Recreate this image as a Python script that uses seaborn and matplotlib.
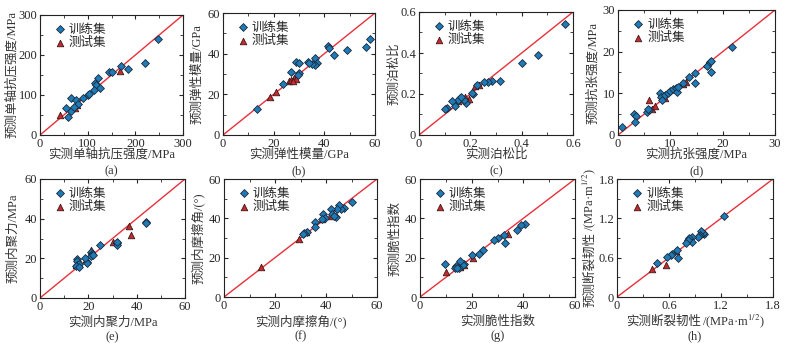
import matplotlib
matplotlib.use("Agg")
import matplotlib.pyplot as plt
from matplotlib.ticker import MultipleLocator
import seaborn as sns
import pandas as pd

# (a) uniaxial compressive strength
a_train_x = [247, 220, 185, 170, 145, 152, 122, 115, 118, 126, 113, 100, 103, 90, 66, 75, 65, 55, 58, 80, 72]
a_train_y = [240, 180, 166, 172, 158, 158, 142, 130, 124, 117, 112, 100, 102, 93, 93, 88, 60, 67, 45, 78, 70]
a_test_x = [42, 73, 77, 168, 122]
a_test_y = [50, 68, 76, 160, 123]

# (b) elastic modulus
b_train_x = [58, 56.5, 49, 44, 41.5, 42, 36.5, 37, 36.5, 35, 33.5, 34, 29, 30, 30, 29.5, 27, 23.5, 13.5]
b_train_y = [47, 43.5, 42, 39.5, 44, 43, 38, 35.5, 34.5, 35, 36, 35.5, 36, 35.5, 30.5, 29.5, 31, 25, 13]
b_test_x = [18.5, 21, 26, 27, 28, 29, 27.5]
b_test_y = [18.5, 21, 26.5, 27, 28, 27.5, 26.5]

# (c) Poisson's ratio
c_train_x = [0.57, 0.465, 0.40, 0.315, 0.285, 0.27, 0.255, 0.225, 0.21, 0.205, 0.185, 0.175, 0.16, 0.15, 0.14, 0.13, 0.11, 0.10, 0.165]
c_train_y = [0.54, 0.39, 0.35, 0.265, 0.262, 0.258, 0.258, 0.245, 0.20, 0.205, 0.158, 0.17, 0.18, 0.17, 0.14, 0.165, 0.13, 0.128, 0.185]
c_test_x = [0.22, 0.235, 0.195, 0.15, 0.16, 0.18]
c_test_y = [0.24, 0.245, 0.175, 0.168, 0.175, 0.185]

# (d) tensile strength
d_train_x = [0.7, 3, 3.5, 3.2, 5.5, 6, 5.8, 8, 8.2, 8.5, 9, 9.5, 10, 10.5, 11, 11.2, 11.5, 12.5, 13.5, 14.7, 14.7, 17, 17.5, 17.8, 17.8, 21.8]
d_train_y = [1.8, 5, 4.5, 3.2, 5.5, 6, 6.2, 10, 9, 8.3, 9.5, 10, 10.5, 11, 11.2, 10.2, 11.5, 12.5, 14, 14.8, 12.5, 16.5, 17.5, 17.8, 15, 21]
d_test_x = [6, 6.5, 7, 9, 12.5, 13, 17, 10.8]
d_test_y = [8.3, 6.3, 7, 8.8, 12.3, 12.8, 17, 11]

# (e) cohesion
e_train_x = [44, 44, 32, 32, 32, 25, 21, 21.5, 21, 22, 19.5, 19.5, 18.5, 15.5, 15.5, 15.5, 16, 15, 16]
e_train_y = [38.5, 37.8, 27.5, 26.5, 28, 26.5, 23, 22, 21, 21.5, 18, 17.5, 20, 19.5, 18.5, 16.5, 17, 16, 15.5]
e_test_x = [37, 37.5, 30, 21, 21.5, 15]
e_test_y = [36.5, 32, 28, 24, 23, 16.5]

# (f) internal friction angle
f_train_x = [50, 47, 46, 45, 44.5, 44, 42, 42.5, 39, 39.5, 38.5, 35.5, 35.5, 32.5, 31.5, 31, 43]
f_train_y = [48.5, 45.5, 45, 47, 44.5, 40.5, 45, 42, 42, 40, 39.5, 38, 35.5, 33, 32.5, 32, 41]
f_test_x = [14.5, 29.5, 42, 38.5, 32]
f_test_y = [15.5, 29.5, 41, 39.5, 33]

# (g) brittleness index
g_train_x = [40.5, 39, 37.5, 33, 32.5, 30, 28.5, 24.5, 23, 20, 17, 16.5, 15.5, 15, 14, 13.5, 14.5, 9.5]
g_train_y = [37, 36.5, 34, 27.5, 31.5, 30, 29, 24, 22, 21.5, 17, 16.5, 18.5, 15, 16, 15, 14.5, 17]
g_test_x = [10, 34, 20.5, 15.5, 17]
g_test_y = [12.5, 32, 20, 15.5, 16.5]

# (h) fracture toughness
h_train_x = [1.24, 1.0, 0.99, 0.97, 0.96, 0.95, 0.93, 0.87, 0.86, 0.83, 0.82, 0.80, 0.70, 0.69, 0.64, 0.62, 0.58, 0.46]
h_train_y = [1.23, 0.96, 0.98, 1.0, 0.95, 0.93, 0.91, 0.92, 0.84, 0.90, 0.87, 0.82, 0.59, 0.72, 0.66, 0.64, 0.61, 0.52]
h_test_x = [0.40, 0.56, 0.68, 0.96, 0.99]
h_test_y = [0.42, 0.49, 0.70, 0.99, 0.98]

# labels: (chinese part, unit part) so the unit can use mathtext
panels = [
    ("a", a_train_x, a_train_y, a_test_x, a_test_y, 300, 100, ("实测单轴抗压强度", "/MPa"), ("预测单轴抗压强度", "/MPa"), "{:.0f}"),
    ("b", b_train_x, b_train_y, b_test_x, b_test_y, 60, 20, ("实测弹性模量", "/GPa"), ("预测弹性模量", "/GPa"), "{:.0f}"),
    ("c", c_train_x, c_train_y, c_test_x, c_test_y, 0.6, 0.2, ("实测泊松比", ""), ("预测泊松比", ""), "{:.1f}"),
    ("d", d_train_x, d_train_y, d_test_x, d_test_y, 30, 10, ("实测抗张强度", "/MPa"), ("预测抗张强度", "/MPa"), "{:.0f}"),
    ("e", e_train_x, e_train_y, e_test_x, e_test_y, 60, 20, ("实测内聚力", "/MPa"), ("预测内聚力", "/MPa"), "{:.0f}"),
    ("f", f_train_x, f_train_y, f_test_x, f_test_y, 60, 20, ("实测内摩擦角", "/(°)"), ("预测内摩擦角", "/(°)"), "{:.0f}"),
    ("g", g_train_x, g_train_y, g_test_x, g_test_y, 60, 20, ("实测脆性指数", ""), ("预测脆性指数", ""), "{:.0f}"),
    ("h", h_train_x, h_train_y, h_test_x, h_test_y, 1.8, 0.6,
     ("实测断裂韧性", "/(MPa·m$^{1/2}$)"), ("预测断裂韧性", "/(MPa·m$^{1/2}$)"), "{:.1f}"),
]

# pixel boxes (x0, y0, x1, y1) of each axes in the 787x347 image
boxes = [
    (40, 15, 183, 135), (223, 13, 375, 135), (419, 12, 573, 135), (618, 10, 775, 135),
    (40, 179, 185, 298), (224, 179, 377, 297), (420, 179, 575, 297), (617, 179, 773, 297),
]
ylabel_gap = [25, 22, 22, 22, 24, 22, 22, 24]

sns.set_theme(style="ticks")
plt.rcParams['font.family'] = ['Liberation Serif', 'Noto Sans CJK SC']
plt.rcParams['mathtext.fontset'] = 'stix'
plt.rcParams['font.size'] = 9

W, H = 787, 347
fig = plt.figure(figsize=(W / 100, H / 100), dpi=100)
renderer = fig.canvas.get_renderer()

blue = "#1f7ab8"
red = "#c8282e"
txt = "#333333"


def text_width(s):
    t = fig.text(0, 0, s, fontsize=9)
    w = t.get_window_extent(renderer).width
    t.remove()
    return w


def axis_label(parts, cx, cy, vertical):
    # text on one baseline centred at (cx, cy) in image pixels;
    # a mathtext unit is drawn as its own piece since mathtext has no CJK fallback
    p1, p2 = parts
    rot = 90 if vertical else 0
    kw = dict(fontsize=9, color=txt, rotation=rot, rotation_mode="anchor",
              va="baseline", transform=None)
    if "$" not in p2:
        fig.text(cx, H - cy, p1 + p2, ha="center", **kw)
        return
    w1 = text_width(p1)
    w2 = text_width(p2)
    start = -(w1 + w2) / 2
    if vertical:
        px, py = cx, H - cy + start + w1
    else:
        px, py = cx + start + w1, H - cy
    fig.text(px, py, p1, ha="right", **kw)
    fig.text(px + (0 if vertical else 0.5), py + (0.5 if vertical else 0), p2, ha="left", **kw)


def tick_text(v, fmt):
    return "0" if v == 0 else fmt.format(v)


for i, ((tag, trx, try_, tex, tey, lim, step, xl, yl, fmt), (x0, y0, x1, y1)) in enumerate(zip(panels, boxes)):
    ax = fig.add_axes([x0 / W, 1 - y1 / H, (x1 - x0) / W, (y1 - y0) / H])
    train = pd.DataFrame({"x": trx, "y": try_})
    test = pd.DataFrame({"x": tex, "y": tey})
    ax.plot([0, lim], [0, lim], color="#e8303a", lw=1.0, zorder=1)
    sns.scatterplot(data=train, x="x", y="y", ax=ax, marker="D", s=16, color=blue,
                    edgecolor="#1a2a3a", linewidth=0.6, label="训练集", zorder=3)
    sns.scatterplot(data=test, x="x", y="y", ax=ax, marker="^", s=22, color=red,
                    edgecolor="#3a1a1a", linewidth=0.6, label="测试集", zorder=2)
    ax.set_xlim(0, lim)
    ax.set_ylim(0, lim)
    ax.xaxis.set_minor_locator(MultipleLocator(step / 2))
    ax.yaxis.set_minor_locator(MultipleLocator(step / 2))
    ticks = [k * step for k in range(4)]
    ax.set_xticks(ticks)
    ax.set_yticks(ticks)
    ax.set_xticklabels([tick_text(t, fmt) for t in ticks], fontsize=9)
    ax.set_yticklabels([tick_text(t, fmt) for t in ticks], fontsize=9)
    ax.tick_params(which="both", direction="in", top=True, right=True, pad=2)
    ax.tick_params(which="major", length=3, width=0.8)
    ax.tick_params(which="minor", length=2, width=0.6)
    for sp in ax.spines.values():
        sp.set_linewidth(0.8)
        sp.set_color("#222222")
    ax.set_xlabel("")
    ax.set_ylabel("")
    ax.legend(loc="upper left", frameon=False, fontsize=9, handletextpad=0.1,
              bbox_to_anchor=(0.05, 0.97), borderaxespad=0.0, labelspacing=0.1,
              handlelength=1.2)
    top_row = i < 4
    axis_label(xl, (x0 + x1) / 2, y1 + (23 if top_row else 28), vertical=False)
    axis_label(yl, x0 - ylabel_gap[i], (y0 + y1) / 2, vertical=True)
    fig.text((x0 + x1) / 2 / W, 1 - (y1 + (36 if top_row else 39)) / H, "(%s)" % tag,
             ha="center", va="center", fontsize=9, color=txt)

fig.savefig("out.png", dpi=100)
